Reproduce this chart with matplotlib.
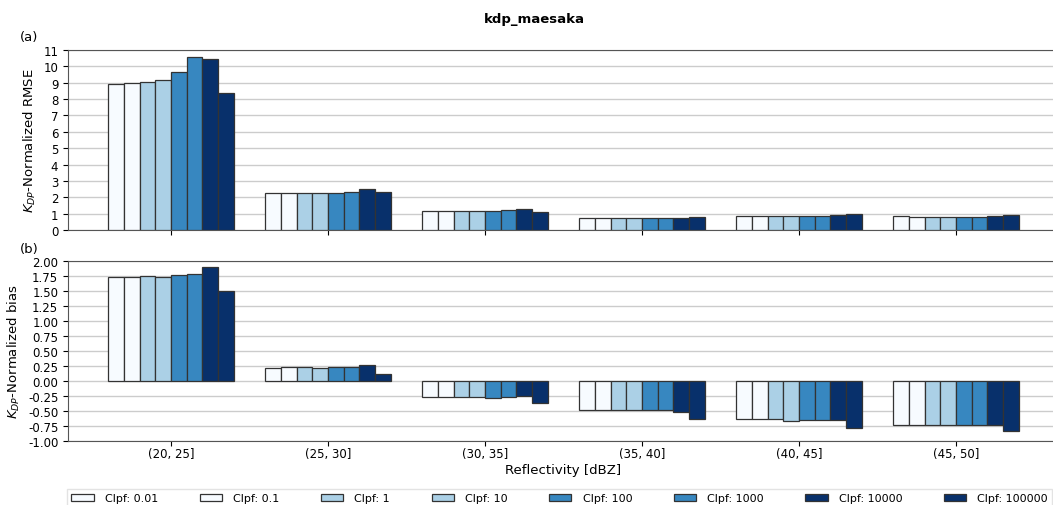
import numpy as np
import matplotlib.pyplot as plt
from matplotlib.ticker import FormatStrFormatter

# ===== Данные =====
bins = ['(20, 25]', '(25, 30]', '(30, 35]', '(35, 40]', '(40, 45]', '(45, 50]']
clpf = ['0.01', '0.1', '1', '10', '100', '1000', '10000', '100000']
colors = ['#f7fbff', '#f7fbff', '#abd0e6', '#abd0e6',
          '#3787c0', '#3787c0', '#08306b', '#08306b']

rmse_001 = [8.90, 2.24, 1.14, 0.74, 0.86, 0.84]
rmse_01 = [9.00, 2.24, 1.14, 0.74, 0.86, 0.82]
rmse_1 = [9.03, 2.24, 1.14, 0.74, 0.86, 0.82]
rmse_10 = [9.19, 2.24, 1.14, 0.74, 0.86, 0.82]
rmse_100 = [9.68, 2.28, 1.14, 0.74, 0.86, 0.82]
rmse_1000 = [10.57, 2.30, 1.20, 0.74, 0.86, 0.82]
rmse_10000 = [10.45, 2.49, 1.28, 0.74, 0.92, 0.86]
rmse_100000 = [8.39, 2.30, 1.08, 0.82, 0.98, 0.94]

bias_001 = [1.74, 0.22, -0.27, -0.49, -0.64, -0.73]
bias_01 = [1.74, 0.24, -0.27, -0.49, -0.64, -0.73]
bias_1 = [1.75, 0.24, -0.27, -0.49, -0.64, -0.73]
bias_10 = [1.74, 0.22, -0.27, -0.49, -0.66, -0.73]
bias_100 = [1.77, 0.23, -0.28, -0.49, -0.645, -0.73]
bias_1000 = [1.79, 0.23, -0.27, -0.49, -0.65, -0.73]
bias_10000 = [1.90, 0.27, -0.255, -0.51, -0.645, -0.74]
bias_100000 = [1.50, 0.12, -0.37, -0.63, -0.79, -0.84]

rmse = [rmse_001, rmse_01, rmse_1, rmse_10, rmse_100, rmse_1000, rmse_10000, rmse_100000]
bias = [bias_001, bias_01, bias_1, bias_10, bias_100, bias_1000, bias_10000, bias_100000]


def draw_bars(ax, series):
    x = np.arange(len(bins))
    width = 0.1
    handles = []
    for i, vals in enumerate(series):
        offset = (i - (len(series) - 1) / 2) * width
        h = ax.bar(x + offset, vals, width, color=colors[i], edgecolor='#333333',
                   linewidth=0.9, label=f'Clpf: {clpf[i]}', zorder=3)
        handles.append(h)
    ax.set_xticks(x)
    ax.set_xlim(-0.656, 5.656)
    ax.grid(axis='y', color='#cccccc', linewidth=1, zorder=0)
    for s in ax.spines.values():
        s.set_color('#555555')
    return handles


fig = plt.figure(figsize=(10.53, 5.06), dpi=100)
W, H = 1053, 506
ax1 = fig.add_axes([68 / W, 1 - 231 / H, 991 / W, 180 / H])
ax2 = fig.add_axes([68 / W, 1 - 442 / H, 991 / W, 180 / H])

handles = draw_bars(ax1, rmse)
ax1.set_ylim(0, 11)
ax1.set_yticks(range(0, 12))
ax1.set_xticklabels([])
ax1.set_ylabel('$K_{DP}$-Normalized RMSE', fontsize=9.5)

draw_bars(ax2, bias)
ax2.set_ylim(-1, 2)
ax2.set_yticks(np.arange(-1, 2.01, 0.25))
ax2.yaxis.set_major_formatter(FormatStrFormatter('%.2f'))
ax2.set_xticklabels(bins)
ax2.tick_params(axis='x', pad=1)
ax2.set_xlabel('Reflectivity [dBZ]', fontsize=9.5, labelpad=2)
ax2.set_ylabel('$K_{DP}$-Normalized bias', fontsize=9.5)

for ax in (ax1, ax2):
    ax.tick_params(labelsize=8.5)

fig.text(534 / W, 1 - 19 / H, 'kdp_maesaka', fontsize=9.5, fontweight='bold',
         ha='center', va='center')
fig.text(20 / W, 1 - 38 / H, '(a)', fontsize=9.5, va='center')
fig.text(20 / W, 1 - 249 / H, '(b)', fontsize=9.5, va='center')

fig.legend(handles=handles, loc='upper left', bbox_to_anchor=(67 / W, 1 - 490 / H),
           ncol=8, fontsize=8, columnspacing=3.75, handletextpad=1.0, borderaxespad=0,
           frameon=True, fancybox=False, edgecolor='#dddddd')

fig.savefig('out.png', dpi=100)
